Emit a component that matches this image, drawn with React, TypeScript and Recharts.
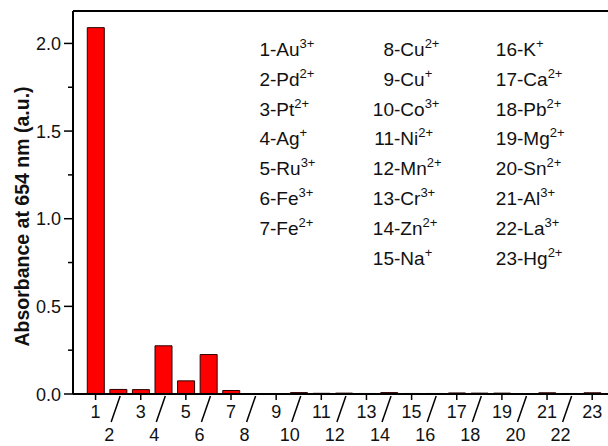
import { BarChart, Bar, XAxis, YAxis, ReferenceLine } from "recharts";

const FONT = "'Liberation Sans', Arial, sans-serif";

const CATEGORIES = [1, 2, 3, 4, 5, 6, 7, 8, 9, 10, 11, 12, 13, 14, 15, 16, 17, 18, 19, 20, 21, 22, 23];
const ABSORBANCE = [
  2.09, 0.026, 0.025, 0.275, 0.075, 0.225, 0.02, 0, 0, 0.008, 0.004, 0.005,
  0.003, 0.008, 0.003, 0.003, 0.006, 0.005, 0.005, 0.002, 0.007, 0.003, 0.007,
];
const ION_NAMES = [
  "Au", "Pd", "Pt", "Ag", "Ru", "Fe", "Fe", "Cu", "Cu", "Co", "Ni", "Mn",
  "Cr", "Zn", "Na", "K", "Ca", "Pb", "Mg", "Sn", "Al", "La", "Hg",
];
const ION_CHARGES = [
  "3+", "2+", "2+", "+", "3+", "3+", "2+", "2+", "+", "3+", "2+", "2+",
  "3+", "2+", "+", "+", "2+", "2+", "2+", "2+", "3+", "3+", "2+",
];
const LEGEND_COLUMNS = [7, 8, 8];
const Y_TICKS = [0, 0.25, 0.5, 0.75, 1.0, 1.25, 1.5, 1.75, 2.0];
const Y_MAX = 2.185;
const X_MAX = 23.7;

const data = CATEGORIES.map((c, i) => ({ idx: c, absorbance: ABSORBANCE[i] }));

const YTick = ({ x = 0, y = 0, payload }: any) => {
  const v = payload?.value ?? 0;
  const major = Math.abs(v * 2 - Math.round(v * 2)) < 1e-6;
  return (
    <g>
      <line x1={x - (major ? 9 : 5)} y1={y} x2={x} y2={y} stroke="#000" strokeWidth={1.5} />
      {major && (
        <text x={x - 12} y={y} dy={6.5} textAnchor="end" fontSize={18} fontFamily={FONT} fill="#111">
          {v.toFixed(1)}
        </text>
      )}
    </g>
  );
};

const XTick = ({ x = 0, y = 0, payload }: any) => {
  const v = payload?.value ?? 0;
  if (v % 2 === 1) {
    return (
      <g>
        <line x1={x} y1={y} x2={x} y2={y + 6} stroke="#000" strokeWidth={1.5} />
        <text x={x} y={y + 24} textAnchor="middle" fontSize={18} fontFamily={FONT} fill="#111">
          {v}
        </text>
      </g>
    );
  }
  return (
    <g>
      <line x1={x + 2} y1={y + 2} x2={x - 7} y2={y + 28} stroke="#000" strokeWidth={1.5} />
      <text x={x - 9} y={y + 47} textAnchor="middle" fontSize={18} fontFamily={FONT} fill="#111">
        {v}
      </text>
    </g>
  );
};

const YLabel = ({ viewBox }: any) => {
  const cx = (viewBox?.x ?? 0) + 22;
  const cy = (viewBox?.y ?? 0) + (viewBox?.height ?? 0) / 2 + 14;
  return (
    <text
      x={cx}
      y={cy}
      transform={`rotate(-90 ${cx} ${cy})`}
      textAnchor="middle"
      dominantBaseline="central"
      fontSize={19.5}
      fontWeight="bold"
      fontFamily={FONT}
      fill="#111"
    >
      Absorbance at 654 nm (a.u.)
    </text>
  );
};

// hyphen x of each legend column, first row baseline and row step
const LEGEND_X = [270, 394, 517];
const LEGEND_Y0 = 56;
const LEGEND_STEP = 29.8;

const IonLegend = () => {
  let k = 0;
  const items: any[] = [];
  LEGEND_COLUMNS.forEach((n, col) => {
    for (let row = 0; row < n; row++) {
      const i = k++;
      const x = LEGEND_X[col];
      const y = LEGEND_Y0 + row * LEGEND_STEP;
      items.push(
        <g key={i}>
          <text x={x} y={y} textAnchor="end" fontSize={19} fontFamily={FONT} fill="#111">
            {CATEGORIES[i]}
          </text>
          <text x={x} y={y} fontSize={19} fontFamily={FONT} fill="#111">
            -{ION_NAMES[i]}
            <tspan dy={-8} fontSize={13}>
              {ION_CHARGES[i]}
            </tspan>
          </text>
        </g>
      );
    }
  });
  return (
    <svg width={608} height={446} style={{ position: "absolute", left: 0, top: 0, pointerEvents: "none" }}>
      {items}
    </svg>
  );
};

export default function App() {
  return (
    <div style={{ position: "absolute", left: 0, top: 0, width: 608, height: 446, background: "#fff", overflow: "hidden" }}>
      <BarChart width={608} height={446} data={data} margin={{ top: 11, right: 0, left: 0, bottom: 0 }}>
        <XAxis
          dataKey="idx"
          type="number"
          domain={[0, X_MAX]}
          ticks={CATEGORIES}
          interval={0}
          height={52}
          tick={<XTick />}
          tickLine={false}
          tickSize={0}
          tickMargin={0}
          axisLine={{ stroke: "#000", strokeWidth: 2 }}
          allowDataOverflow
        />
        <YAxis
          type="number"
          domain={[0, Y_MAX]}
          ticks={Y_TICKS}
          interval={0}
          width={73}
          tick={<YTick />}
          tickLine={false}
          tickSize={0}
          tickMargin={0}
          axisLine={{ stroke: "#000", strokeWidth: 2 }}
          allowDataOverflow
          label={<YLabel />}
        />
        <ReferenceLine y={Y_MAX} stroke="#000" strokeWidth={2} />
        <Bar
          dataKey="absorbance"
          fill="#ff0000"
          stroke="#2a0000"
          strokeWidth={1}
          barSize={17}
          isAnimationActive={false}
        />
      </BarChart>
      <IonLegend />
    </div>
  );
}
